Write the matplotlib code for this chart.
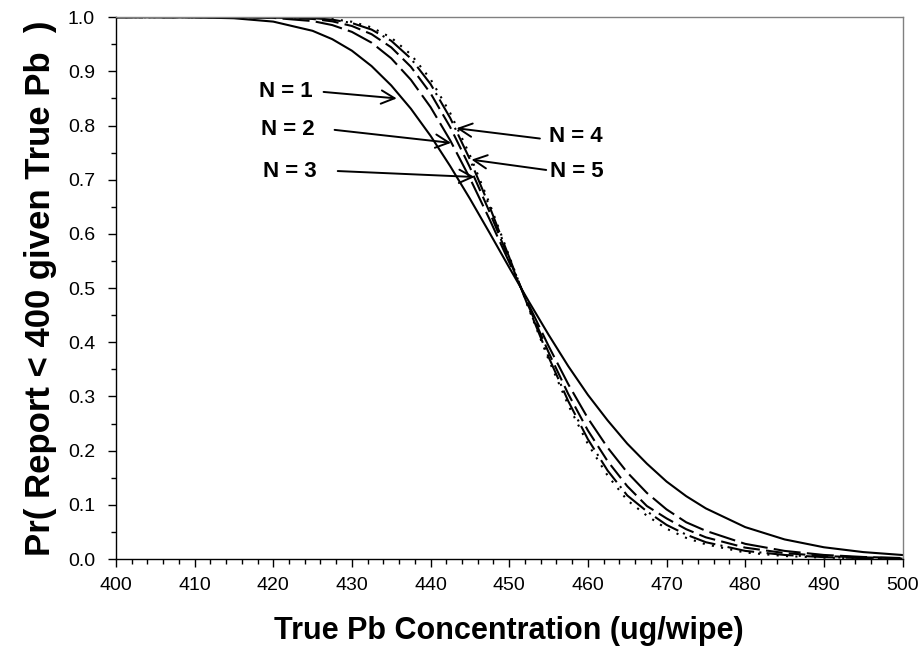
import matplotlib
matplotlib.use("Agg")
import matplotlib.pyplot as plt
from matplotlib.ticker import MultipleLocator, FormatStrFormatter

plt.rcParams['font.family'] = ['Liberation Sans', 'DejaVu Sans']

x_vals = [400, 405, 410, 415, 420, 425, 427.5, 430, 432.5, 435, 437.5, 440, 442.5,
          445, 447.5, 450, 452.5, 455, 457.5, 460, 462.5, 465, 467.5, 470, 472.5,
          475, 480, 485, 490, 495, 500]

p_n1 = [1.0, 1.0, 0.9996, 0.998, 0.9918, 0.9748, 0.9594, 0.9381, 0.9097, 0.874, 0.831,
        0.781, 0.725, 0.665, 0.602, 0.538, 0.475, 0.414, 0.356, 0.303, 0.256, 0.213,
        0.176, 0.143, 0.116, 0.0934, 0.0589, 0.0362, 0.0217, 0.0128, 0.0074]
p_n2 = [1.0, 1.0, 1.0, 0.9998, 0.9987, 0.9928, 0.9854, 0.9728, 0.9529, 0.924, 0.8844,
        0.834, 0.7726, 0.7028, 0.627, 0.5476, 0.4687, 0.3932, 0.3228, 0.2598, 0.2058,
        0.1599, 0.122, 0.0916, 0.0678, 0.052, 0.028, 0.015, 0.0075, 0.0038, 0.0018]
p_n3 = [1.0, 1.0, 1.0, 1.0, 0.9996, 0.9967, 0.9923, 0.9837, 0.9686, 0.9443, 0.9084,
        0.8595, 0.797, 0.723, 0.6405, 0.5529, 0.4652, 0.3816, 0.3047, 0.2373, 0.1808,
        0.1345, 0.0978, 0.075, 0.055, 0.040, 0.021, 0.011, 0.0055, 0.003, 0.0015]
p_n4 = [1.0, 1.0, 1.0, 1.0, 0.9998, 0.9982, 0.9954, 0.9892, 0.9771, 0.9564, 0.9236,
        0.8766, 0.8139, 0.7376, 0.6505, 0.5568, 0.4626, 0.373, 0.2915, 0.2211, 0.1634,
        0.1174, 0.088, 0.063, 0.045, 0.031, 0.015, 0.0075, 0.0035, 0.0017, 0.0008]
p_n5 = [1.0, 1.0, 1.0, 1.0, 0.9999, 0.9988, 0.9966, 0.9915, 0.9811, 0.9622, 0.9312,
        0.8855, 0.823, 0.7455, 0.656, 0.559, 0.4612, 0.3683, 0.2842, 0.2123, 0.1542,
        0.1086, 0.080, 0.056, 0.039, 0.027, 0.012, 0.0055, 0.0025, 0.0012, 0.0005]

labels = ["N = 1", "N = 2", "N = 3", "N = 4", "N = 5"]
label_text_xy = [(421.6, 0.862), (421.9, 0.792), (422.1, 0.716), (455.0, 0.779), (455.2, 0.715)]
label_ha = ['center', 'center', 'center', 'left', 'left']
arrow_start_xy = [(426.4, 0.862), (427.8, 0.792), (428.2, 0.716), (453.9, 0.776), (454.7, 0.718)]
arrow_tip_xy = [(435.7, 0.850), (442.6, 0.768), (445.6, 0.705), (443.3, 0.795), (445.2, 0.737)]

fig = plt.figure(figsize=(9.2, 6.6), dpi=100)
ax = fig.add_axes([0.126, 0.153, 0.855, 0.821])

styles = [
    dict(linestyle='-'),
    dict(linestyle=(0, (13, 3))),
    dict(linestyle=(0, (8, 3))),
    dict(linestyle=(0, (13, 2.5, 1, 2.5))),
    dict(linestyle=(0, (1, 3.5))),
]
series = [p_n1, p_n2, p_n3, p_n4, p_n5]
for s, st in zip(series, styles):
    ax.plot(x_vals, s, color='black', lw=1.5, **st)

for i, lab in enumerate(labels):
    tx, ty = label_text_xy[i]
    ax.text(tx, ty, lab, fontsize=16, fontweight='bold', ha=label_ha[i], va='center')
    ax.annotate("", xy=arrow_tip_xy[i], xytext=arrow_start_xy[i],
                arrowprops=dict(arrowstyle='->', color='black', lw=1.4,
                                mutation_scale=24, shrinkA=0, shrinkB=0))

ax.set_xlim(400, 500)
ax.set_ylim(0, 1)
ax.xaxis.set_major_locator(MultipleLocator(10))
ax.xaxis.set_minor_locator(MultipleLocator(2))
ax.yaxis.set_major_locator(MultipleLocator(0.1))
ax.yaxis.set_minor_locator(MultipleLocator(0.05))
ax.tick_params(axis='both', which='major', direction='out', length=6, width=1,
               labelsize=14, top=False, right=False)
ax.tick_params(axis='x', which='major', pad=7)
ax.tick_params(axis='y', which='major', pad=9)
ax.tick_params(axis='both', which='minor', direction='out', length=3.5, width=1,
               top=False, right=False)
ax.yaxis.set_major_formatter(FormatStrFormatter('%.1f'))

for side in ['top', 'right']:
    ax.spines[side].set_color('#808080')
    ax.spines[side].set_linewidth(1)
for side in ['left', 'bottom']:
    ax.spines[side].set_color('black')
    ax.spines[side].set_linewidth(1)

ax.set_xlabel("True Pb Concentration (ug/wipe)", fontsize=22, fontweight='bold', labelpad=16)
ax.set_ylabel("Pr( Report < 400 given True Pb  )", fontsize=25, fontweight='bold', labelpad=8)

fig.savefig("out.png", dpi=100)
